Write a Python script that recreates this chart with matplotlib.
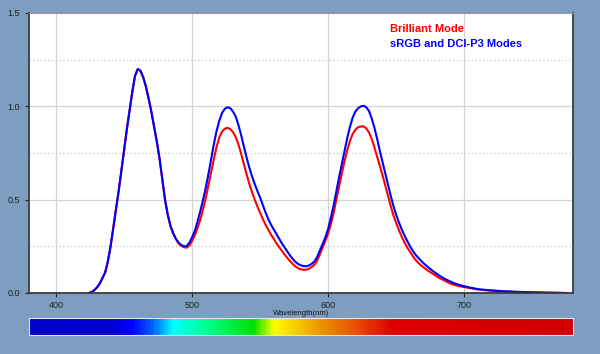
import numpy as np
import matplotlib
matplotlib.use("Agg")
from matplotlib import pyplot as plt
from matplotlib.colors import LinearSegmentedColormap

# wavelength grid (nm): 2 nm steps up to 700, coarser in the tail
wl = list(range(424, 702, 2)) + [705, 710, 715, 720, 730, 740, 750, 760, 770, 775]

# sRGB and DCI-P3 modes (blue curve)
srgb_dci = [
    0.0, 0.005, 0.015, 0.03, 0.05, 0.08, 0.11, 0.17, 0.25, 0.35,
    0.45, 0.55, 0.66, 0.77, 0.88, 0.98, 1.08, 1.165, 1.20, 1.19,
    1.155, 1.105, 1.04, 0.97, 0.89, 0.81, 0.72, 0.61, 0.50, 0.42,
    0.36, 0.32, 0.29, 0.27, 0.257, 0.25, 0.252, 0.27, 0.30, 0.335,
    0.385, 0.44, 0.50, 0.565, 0.64, 0.72, 0.80, 0.87, 0.925, 0.965,
    0.987, 0.995, 0.99, 0.972, 0.945, 0.90, 0.845, 0.785, 0.725, 0.672,
    0.625, 0.583, 0.545, 0.51, 0.47, 0.43, 0.395, 0.365, 0.34, 0.315,
    0.29, 0.265, 0.243, 0.222, 0.2, 0.182, 0.166, 0.155, 0.148, 0.144,
    0.143, 0.148, 0.157, 0.17, 0.195, 0.23, 0.265, 0.30, 0.345, 0.405,
    0.47, 0.545, 0.62, 0.69, 0.76, 0.83, 0.89, 0.94, 0.972, 0.99,
    1.0, 1.003, 0.995, 0.975, 0.935, 0.885, 0.825, 0.76, 0.70, 0.64,
    0.58, 0.52, 0.465, 0.418, 0.378, 0.342, 0.31, 0.28, 0.252, 0.228,
    0.207, 0.19, 0.175, 0.16, 0.147, 0.135, 0.123, 0.112, 0.102, 0.092,
    0.083, 0.075, 0.068, 0.061, 0.054, 0.049, 0.044, 0.04, 0.036,
    0.028, 0.021, 0.017, 0.014, 0.009, 0.006, 0.004, 0.002, 0.001, 0.0]

# Brilliant mode (red curve)
brilliant = [
    0.0, 0.005, 0.015, 0.03, 0.05, 0.08, 0.11, 0.17, 0.25, 0.35,
    0.45, 0.55, 0.66, 0.77, 0.88, 0.98, 1.08, 1.165, 1.20, 1.19,
    1.155, 1.105, 1.04, 0.97, 0.89, 0.81, 0.72, 0.61, 0.50, 0.42,
    0.36, 0.32, 0.29, 0.265, 0.252, 0.245, 0.243, 0.255, 0.28, 0.31,
    0.35, 0.395, 0.45, 0.51, 0.58, 0.65, 0.72, 0.785, 0.835, 0.865,
    0.88, 0.885, 0.878, 0.862, 0.835, 0.795, 0.745, 0.69, 0.635, 0.585,
    0.54, 0.5, 0.462, 0.428, 0.395, 0.365, 0.338, 0.312, 0.29, 0.265,
    0.245, 0.225, 0.205, 0.188, 0.17, 0.155, 0.142, 0.132, 0.127, 0.124,
    0.125, 0.13, 0.14, 0.152, 0.175, 0.21, 0.245, 0.28, 0.32, 0.37,
    0.43, 0.50, 0.57, 0.64, 0.705, 0.765, 0.815, 0.852, 0.875, 0.888,
    0.892, 0.893, 0.882, 0.86, 0.825, 0.78, 0.73, 0.68, 0.63, 0.575,
    0.52, 0.465, 0.415, 0.375, 0.337, 0.303, 0.272, 0.245, 0.222, 0.2,
    0.18, 0.163, 0.15, 0.138, 0.127, 0.117, 0.107, 0.098, 0.088, 0.079,
    0.072, 0.065, 0.057, 0.05, 0.045, 0.041, 0.037, 0.034, 0.032,
    0.025, 0.019, 0.015, 0.012, 0.008, 0.005, 0.003, 0.002, 0.001, 0.0]

xticks = [400, 500, 600, 700]
yticks = [0.0, 0.5, 1.0, 1.5]

bg = '#7d9ec1'
plt.rcParams['font.family'] = ['Liberation Sans', 'DejaVu Sans']

fig = plt.figure(figsize=(6, 3.54), dpi=100, facecolor=bg)
ax = fig.add_axes([29 / 600, 1 - 293 / 354, 544 / 600, 280 / 354])
ax.set_facecolor('white')

# grid
for x in xticks:
    ax.axvline(x, color='#d4d4d4', lw=0.9, zorder=0)
for y in [0.5, 1.0]:
    ax.axhline(y, color='#d4d4d4', lw=0.9, zorder=0)
for y in [0.25, 0.75, 1.25]:
    ax.axhline(y, color='#c8c8c8', lw=0.9, ls=(0, (1, 2)), zorder=0)

ax.plot(wl, brilliant, color='#ff0000', lw=1.5, solid_joinstyle='round')
ax.plot(wl, srgb_dci, color='#0000ff', lw=1.5, solid_joinstyle='round')

ax.set_xlim(380, 780)
ax.set_ylim(0, 1.5)
ax.set_xticks(xticks)
ax.set_yticks(yticks)
ax.set_yticklabels(['%.1f' % v for v in yticks])
ax.tick_params(labelsize=6.5, colors='#222222', length=3, width=0.8)
ax.tick_params(axis='x', pad=3)
for s in ['left', 'bottom', 'right']:
    ax.spines[s].set_color('#3a3a3a')
    ax.spines[s].set_linewidth(1.3)
ax.spines['top'].set_color('#9a9a9a')
ax.spines['top'].set_linewidth(0.8)

ax.text(361 / 544, 0.942, 'Brilliant Mode', transform=ax.transAxes, color='#ff0000',
        fontsize=8, fontweight='bold', ha='left', va='center')
ax.text(361 / 544, 0.888, 'sRGB and DCI-P3 Modes', transform=ax.transAxes, color='#0000ff',
        fontsize=8, fontweight='bold', ha='left', va='center')

fig.text(301 / 600, 1 - 313.5 / 354, 'Wavelength(nm)', fontsize=5.5, ha='center', va='center',
         color='#111111')

# spectrum bar
stops = [(380, '#0000c8'), (440, '#0000d0'), (455, '#0000ff'), (470, '#0060ff'),
         (486, '#00ffff'), (510, '#00ff90'), (545, '#00e000'), (560, '#ffff00'),
         (590, '#f0a000'), (620, '#e85000'), (648, '#dc0000'), (780, '#d00000')]
cmap = LinearSegmentedColormap.from_list(
    'spec', [((w - 380) / 400, c) for w, c in stops])
cax = fig.add_axes([29 / 600, 1 - 335 / 354, 544 / 600, 17 / 354])
cax.imshow(np.linspace(0, 1, 400)[None, :], aspect='auto', cmap=cmap)
cax.set_xticks([])
cax.set_yticks([])
for s in cax.spines.values():
    s.set_color('#e0e6ee')
    s.set_linewidth(0.8)

fig.savefig('out.png', dpi=100, facecolor=bg)
